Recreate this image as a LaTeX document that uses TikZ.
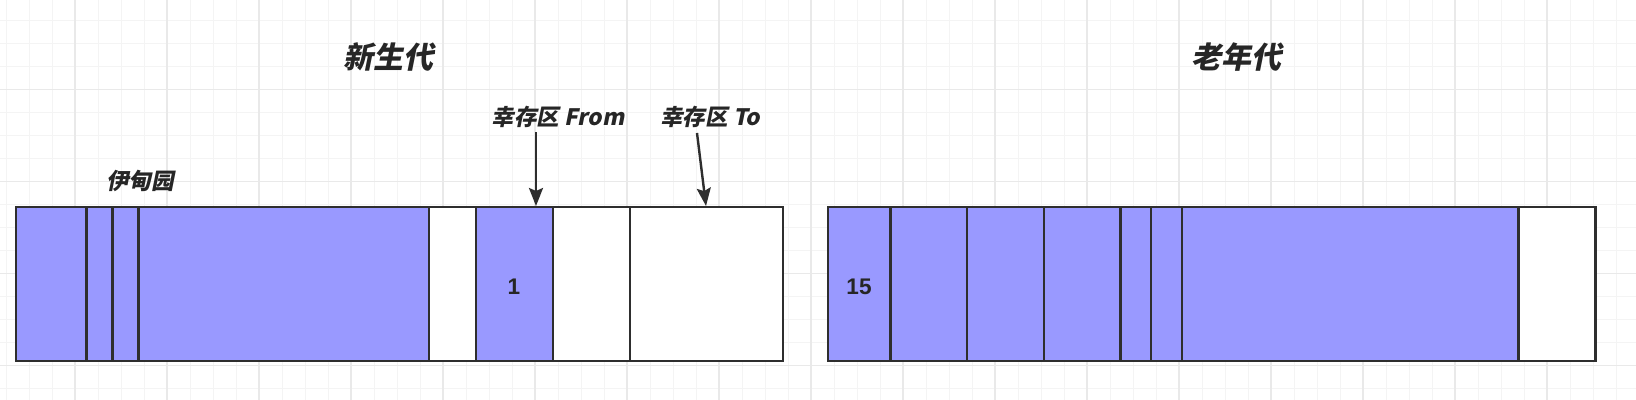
\documentclass[tikz,border=0pt]{standalone}
\usepackage{fontspec}
\newfontfamily\cjk[FakeSlant=0.2]{Noto Sans CJK SC}
\newfontfamily\numfont{Liberation Sans}
\usetikzlibrary{arrows.meta,fit}
\definecolor{cellblue}{HTML}{9999FF}
\definecolor{edgecol}{HTML}{2E2E2E}
\definecolor{textcol}{HTML}{262626}
\definecolor{gridminor}{HTML}{F4F4F4}
\definecolor{gridmajor}{HTML}{E9E9E9}
\begin{document}
\begin{tikzpicture}[x=0.5pt,y=-0.5pt,
  cellbox/.style={draw=edgecol, line width=1.2pt, inner sep=0pt, outer sep=0pt},
  bluecell/.style={cellbox, fill=cellblue},
  whitecell/.style={cellbox, fill=white},
  titletext/.style={text=textcol, font=\cjk\bfseries\fontsize{15}{17}\selectfont, inner sep=0pt},
  labeltext/.style={text=textcol, font=\cjk\bfseries\fontsize{11.3}{13}\selectfont, inner sep=0pt},
  numtext/.style={text=textcol, font=\numfont\bfseries\fontsize{11.3}{13}\selectfont, inner sep=0pt},
  arr/.style={draw=edgecol, line width=1.2pt, -{Stealth[length=9pt,width=7pt,inset=1.5pt]}}
]
\useasboundingbox (0,0) rectangle (1636,400);
\fill[white] (0,0) rectangle (1636,400);
% grid
\foreach \x in {6,29,...,1636} \draw[gridminor, line width=0.5pt] (\x,0) -- (\x,400);
\foreach \y in {20.3,43.3,...,400} \draw[gridminor, line width=0.5pt] (0,\y) -- (1636,\y);
\foreach \x in {75,167,...,1636} \draw[gridmajor, line width=0.6pt] (\x,0) -- (\x,400);
\foreach \y in {-2.7,89.3,...,400} \draw[gridmajor, line width=0.6pt] (0,\y) -- (1636,\y);

% young generation
\node[bluecell, fit={(15.7,207) (86.3,361)}] (e1) {};
\node[bluecell, fit={(86.3,207) (112.4,361)}] (e2) {};
\node[bluecell, fit={(112.4,207) (138.6,361)}] (e3) {};
\node[bluecell, fit={(138.6,207) (428.9,361)}] (e4) {};
\node[whitecell, fit={(428.9,207) (475.9,361)}] (e5) {};
\node[bluecell, fit={(475.9,207) (552.8,361)}] (s1) {};
\node[whitecell, fit={(552.8,207) (630.2,361)}] (s2) {};
\node[whitecell, fit={(630.2,207) (783,361)}] (s3) {};
\node[numtext] (n1) at (514,287) {1};

% old generation
\node[bluecell, fit={(828,207) (890.3,361)}] (o1) {};
\node[bluecell, fit={(890.3,207) (966.8,361)}] (o2) {};
\node[bluecell, fit={(966.8,207) (1043.8,361)}] (o3) {};
\node[bluecell, fit={(1043.8,207) (1120.3,361)}] (o4) {};
\node[bluecell, fit={(1120.3,207) (1151,361)}] (o5) {};
\node[bluecell, fit={(1151,207) (1181.7,361)}] (o6) {};
\node[bluecell, fit={(1181.7,207) (1518.4,361)}] (o7) {};
\node[whitecell, fit={(1518.4,207) (1595.4,361)}] (o8) {};
\node[numtext] (n15) at (859,287) {15};

% labels
\node[titletext] (young) at (388,57) {新生代};
\node[titletext] (old) at (1236,57) {老年代};
\node[labeltext] (fromlab) at (558,117) {幸存区 From};
\node[labeltext] (tolab) at (710,117) {幸存区 To};
\node[labeltext] (edenlab) at (140,181) {伊甸园};

% arrows
\coordinate (fromtip) at (536,206);
\coordinate (totail) at (697,133);
\coordinate (totip) at (706,206);
\draw[arr] (fromlab.south -| fromtip) ++(0,4) -- (fromtip);
\draw[arr] (totail) -- (totip);
\end{tikzpicture}
\end{document}
